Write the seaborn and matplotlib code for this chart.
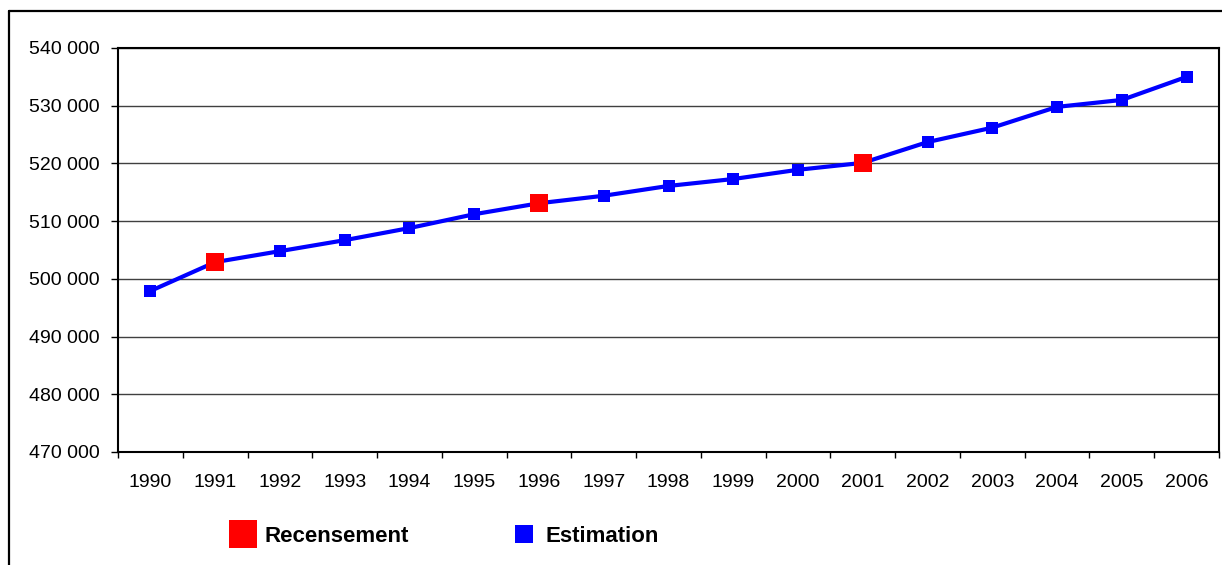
import matplotlib
matplotlib.use("Agg")
import matplotlib.pyplot as plt
from matplotlib.lines import Line2D
from matplotlib.ticker import FixedLocator, FuncFormatter
import numpy as np
import pandas as pd
import seaborn as sns

# Population series, 1990-2006
years = ["1990", "1991", "1992", "1993", "1994", "1995", "1996", "1997", "1998",
         "1999", "2000", "2001", "2002", "2003", "2004", "2005", "2006"]
population = [497900, 502900, 504800, 506700, 508800, 511200, 513100, 514400, 516100,
              517300, 518900, 520100, 523700, 526200, 529800, 531000, 535000]
source = ["Estimation", "Recensement", "Estimation", "Estimation", "Estimation",
          "Estimation", "Recensement", "Estimation", "Estimation", "Estimation",
          "Estimation", "Recensement", "Estimation", "Estimation", "Estimation",
          "Estimation", "Estimation"]
y_ticks = [470000, 480000, 490000, 500000, 510000, 520000, 530000, 540000]

df = pd.DataFrame({"pos": np.arange(len(years)), "year": years,
                   "population": population, "source": source})

sns.set_theme(style="white")
plt.rcParams["font.family"] = ["Liberation Sans", "DejaVu Sans"]
plt.rcParams["text.color"] = "black"

fig = plt.figure(figsize=(12.22, 5.65), dpi=100)
W, H = 1222, 565
ax = fig.add_axes([118 / W, 1 - 452 / H, (1219 - 118) / W, (452 - 48) / H])

# connecting line
sns.lineplot(data=df, x="pos", y="population", color="#0000FF", linewidth=3,
             ax=ax, zorder=3)
# markers: estimates small blue, census counts larger red
est = df[df["source"] == "Estimation"]
cen = df[df["source"] == "Recensement"]
sns.scatterplot(data=est, x="pos", y="population", marker="s", s=72,
                color="#0000FF", edgecolor="#0000FF", linewidth=0, ax=ax, zorder=4)
sns.scatterplot(data=cen, x="pos", y="population", marker="s", s=170,
                color="#FF0000", edgecolor="#FF0000", linewidth=0, ax=ax, zorder=5)

ax.set_xlim(-0.5, len(years) - 0.5)
ax.set_ylim(470000, 540000)
ax.set_xlabel("")
ax.set_ylabel("")

# category axis: ticks between categories, labels centred
ax.xaxis.set_major_locator(FixedLocator(np.arange(-0.5, len(years), 1.0)))
ax.xaxis.set_major_formatter(FuncFormatter(lambda v, p: ""))
ax.set_xticks(np.arange(len(years)), labels=years, minor=True)
ax.tick_params(axis="x", which="major", direction="out", length=4.5, width=1,
               color="black", bottom=True)
ax.tick_params(axis="x", which="minor", length=0, pad=15.5, labelsize=14,
               labelcolor="black")

ax.set_yticks(y_ticks)
ax.yaxis.set_major_formatter(FuncFormatter(lambda v, p: f"{int(v):,}".replace(",", " ")))
ax.tick_params(axis="y", direction="out", length=5, width=1, color="black",
               left=True, pad=8, labelsize=14, labelcolor="black")

ax.grid(axis="y", color="#404040", linewidth=1)
ax.grid(axis="x", visible=False)
for sp in ax.spines.values():
    sp.set_visible(True)
    sp.set_color("black")
    sp.set_linewidth(1.5)

# outer frame of the chart area
fig.add_artist(Line2D([9 / W, 9 / W], [0, 1 - 11 / H], transform=fig.transFigure,
                      color="black", linewidth=1.6))
fig.add_artist(Line2D([9 / W, 1], [1 - 11 / H, 1 - 11 / H], transform=fig.transFigure,
                      color="black", linewidth=1.6))

handles = [
    Line2D([], [], linestyle="none", marker="s", markersize=20,
           markerfacecolor="#FF0000", markeredgewidth=0),
    Line2D([], [], linestyle="none", marker="s", markersize=13.5,
           markerfacecolor="#0000FF", markeredgewidth=0),
]
leg = fig.legend(handles, ["Recensement", "Estimation"], loc="center left",
                 bbox_to_anchor=(232 / W, 1 - 536 / H), ncol=2, frameon=False,
                 borderpad=0, borderaxespad=0, handlelength=1.0, handletextpad=0.45,
                 columnspacing=4.7, prop={"weight": "bold", "size": 16})
for t in leg.get_texts():
    t.set_color("black")

fig.savefig("out.png", dpi=100, facecolor="white")
